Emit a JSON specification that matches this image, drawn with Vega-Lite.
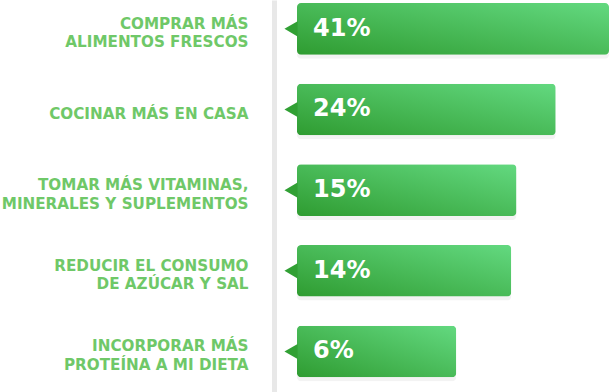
{
  "$schema": "https://vega.github.io/schema/vega-lite/v6.json",
  "width": 312,
  "height": 392,
  "autosize": {"type": "none"},
  "padding": {"left": 297, "top": 0, "right": 0, "bottom": 0},
  "background": "white",
  "config": {"view": {"stroke": null}},
  "data": {
    "values": [
      {"item": "COMPRAR MÁS|ALIMENTOS FRESCOS", "pct": 0.41},
      {"item": "COCINAR MÁS EN CASA", "pct": 0.24},
      {"item": "TOMAR MÁS VITAMINAS,|MINERALES Y SUPLEMENTOS", "pct": 0.15},
      {"item": "REDUCIR EL CONSUMO|DE AZÚCAR Y SAL", "pct": 0.14},
      {"item": "INCORPORAR MÁS|PROTEÍNA A MI DIETA", "pct": 0.06}
    ]
  },
  "encoding": {
    "y": {
      "field": "item",
      "type": "nominal",
      "sort": null,
      "scale": {"paddingInner": 0.36, "paddingOuter": 0.11, "align": 0.17},
      "axis": {
        "title": null,
        "ticks": false,
        "offset": 23,
        "domainColor": "#e8e8e8",
        "domainWidth": 5,
        "labelPadding": 26,
        "labelExpr": "split(datum.label, '|')",
        "labelFont": "DejaVu Sans",
        "labelFontWeight": "bold",
        "labelFontSize": 15.2,
        "labelColor": "#6fc868",
        "labelAlign": "right",
        "labelBaseline": "middle",
        "labelLineHeight": 18.5,
        "labelOffset": {"condition": {"test": "indexof(datum.label, '|') >= 0", "value": -5}, "value": 5},
        "labelLimit": 400
      }
    }
  },
  "layer": [
    {
      "mark": {"type": "bar", "cornerRadius": 4, "color": "#9e9e9e", "opacity": 0.12, "yOffset": 4},
      "encoding": {
        "x": {
          "field": "pct",
          "type": "quantitative",
          "scale": {"type": "pow", "exponent": 0.35, "domain": [0, 0.41], "zero": true, "nice": false},
          "axis": null
        }
      }
    },
    {
      "mark": {
        "type": "bar",
        "cornerRadius": 4,
        "color": {
          "gradient": "linear",
          "x1": 0, "y1": 1, "x2": 1, "y2": 0,
          "stops": [
            {"offset": 0, "color": "#2f9c31"},
            {"offset": 1, "color": "#63d980"}
          ]
        }
      },
      "encoding": {
        "x": {"field": "pct", "type": "quantitative"}
      }
    },
    {
      "mark": {"type": "point", "shape": "triangle-left", "filled": true, "color": "#31a034", "size": 230, "opacity": 1, "xOffset": -6},
      "encoding": {
        "x": {"datum": 0, "type": "quantitative"}
      }
    },
    {
      "mark": {"type": "text", "align": "left", "baseline": "middle", "dx": 16, "dy": 0, "font": "DejaVu Sans", "fontWeight": "bold", "fontSize": 24, "color": "white"},
      "encoding": {
        "x": {"datum": 0, "type": "quantitative"},
        "text": {"field": "pct", "type": "quantitative", "format": ".0%"}
      }
    }
  ]
}
